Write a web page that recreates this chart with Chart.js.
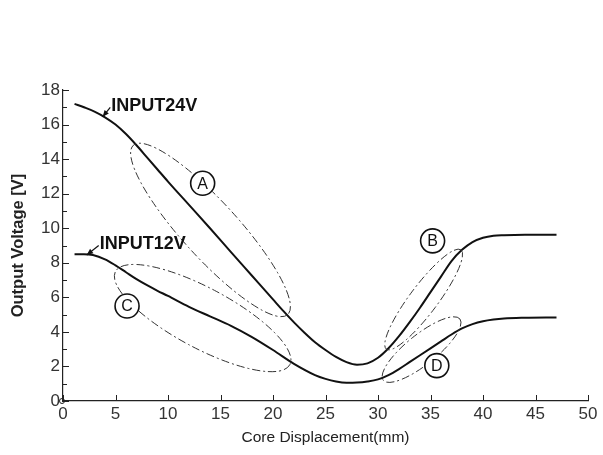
<!DOCTYPE html>
<html>
<head>
<meta charset="utf-8">
<script src="https://cdn.jsdelivr.net/npm/chart.js@4"></script>
<style>
  html, body { margin: 0; padding: 0; background: #fff; }
</style>
</head>
<body>
<canvas id="c" width="603" height="455"></canvas>
<script>
// ── Data ───────────────────────────────────────
const disp24 = [1.1, 2, 3, 4, 5, 6, 7, 8, 9, 10, 12, 14, 16, 18, 20, 21, 22, 23, 24, 25, 26, 27, 28, 29, 30, 31, 32, 33, 34, 35, 36, 37, 38, 39, 40, 41, 42, 44, 47];
const volt24 = [17.2, 17.0, 16.75, 16.42, 16.0, 15.45, 14.8, 14.1, 13.4, 12.7, 11.35, 10.0, 8.62, 7.25, 5.88, 5.2, 4.55, 3.95, 3.4, 2.95, 2.55, 2.25, 2.1, 2.18, 2.5, 3.05, 3.75, 4.55, 5.4, 6.3, 7.2, 8.1, 8.75, 9.2, 9.45, 9.57, 9.6, 9.62, 9.62];

const disp12 = [1.1, 2, 2.85, 4, 5, 6, 7, 8, 9, 10, 12, 14, 16, 18, 20, 22, 24, 25, 26, 27, 28, 29, 30, 31, 32, 33, 34, 35, 36, 37, 38, 39, 40, 41, 42, 44, 47];
const volt12 = [8.5, 8.5, 8.45, 8.2, 7.85, 7.45, 7.05, 6.7, 6.38, 6.08, 5.45, 4.9, 4.35, 3.7, 2.95, 2.15, 1.5, 1.28, 1.13, 1.06, 1.07, 1.13, 1.25, 1.5, 1.85, 2.25, 2.65, 3.05, 3.45, 3.85, 4.2, 4.45, 4.62, 4.72, 4.78, 4.82, 4.84];

const xTickStep = 5,  xMin = 0, xMax = 50;
const yTickStep = 1,  yMin = 0, yMax = 18;

// ── Annotations (data coords) ──────────────────
const ovals = [
  { from: [6.7, 14.8], to: [21.4, 5.0], half: 28 },   // A
  { from: [30.8, 3.0], to: [37.9, 8.75], half: 14 },  // B
  { from: [5.0, 7.5],  to: [21.6, 2.1], half: 30 },   // C
  { from: [30.5, 1.2], to: [37.8, 4.75], half: 15 },  // D
];
const badges = [
  { at: [13.3, 12.6], text: 'A' },
  { at: [35.2, 9.27], text: 'B' },
  { at: [6.1, 5.5],   text: 'C' },
  { at: [35.6, 2.05], text: 'D' },
];
const callouts = [
  { text: 'INPUT24V', at: [4.6, 17.05], tail: [4.5, 17.0], tip: [3.78, 16.45] },
  { text: 'INPUT12V', at: [3.5, 9.1],   tail: [3.4, 9.0],  tip: [2.26, 8.45] },
];

const FONT = "'Liberation Sans', Arial, sans-serif";

function toXY(xs, ys) { return xs.map((x, i) => ({ x, y: ys[i] })); }

// ── Inward MATLAB-style ticks ──────────────────
const inwardTicks = {
  id: 'inwardTicks',
  afterDraw(chart) {
    const { ctx, chartArea: a, scales: { x, y } } = chart;
    ctx.save();
    ctx.strokeStyle = '#222';
    ctx.lineWidth = 1;
    ctx.beginPath();
    x.ticks.forEach(t => {
      const p = Math.round(x.getPixelForValue(t.value)) + 0.5;
      ctx.moveTo(p, a.bottom); ctx.lineTo(p, a.bottom - 6);
    });
    y.ticks.forEach(t => {
      const p = Math.round(y.getPixelForValue(t.value)) + 0.5;
      ctx.moveTo(a.left, p); ctx.lineTo(a.left + (t.value % 2 ? 4 : 6), p);
    });
    ctx.stroke();
    // little ring at the origin
    ctx.beginPath();
    ctx.arc(a.left - 1, a.bottom, 2.5, 0, Math.PI * 2);
    ctx.stroke();
    ctx.restore();
  }
};

// ── Ovals, circled letters, callouts ───────────
const notes = {
  id: 'notes',
  afterDatasetsDraw(chart) {
    const { ctx, scales: { x, y } } = chart;
    const px = p => [x.getPixelForValue(p[0]), y.getPixelForValue(p[1])];
    ctx.save();

    ctx.strokeStyle = '#333';
    ctx.lineWidth = 1;
    ctx.setLineDash([8, 3, 2, 3]);
    ovals.forEach(o => {
      const [x1, y1] = px(o.from), [x2, y2] = px(o.to);
      const cx = (x1 + x2) / 2, cy = (y1 + y2) / 2;
      const len = Math.hypot(x2 - x1, y2 - y1) / 2;
      ctx.beginPath();
      ctx.ellipse(cx, cy, len, o.half, Math.atan2(y2 - y1, x2 - x1), 0, Math.PI * 2);
      ctx.stroke();
    });
    ctx.setLineDash([]);

    ctx.lineWidth = 1.6;
    ctx.strokeStyle = '#111';
    ctx.textAlign = 'center';
    ctx.textBaseline = 'middle';
    ctx.font = '16px ' + FONT;
    badges.forEach(b => {
      const [cx, cy] = px(b.at);
      ctx.beginPath();
      ctx.arc(cx, cy, 12, 0, Math.PI * 2);
      ctx.fillStyle = '#fff'; ctx.fill();
      ctx.stroke();
      ctx.fillStyle = '#111';
      ctx.fillText(b.text, cx, cy + 1);
    });

    ctx.textAlign = 'left';
    ctx.font = 'bold 18px ' + FONT;
    ctx.lineWidth = 1.2;
    callouts.forEach(c => {
      const [tx, ty] = px(c.at);
      ctx.fillText(c.text, tx, ty);
      const [ax, ay] = px(c.tail), [bx, by] = px(c.tip);
      ctx.beginPath(); ctx.moveTo(ax, ay); ctx.lineTo(bx, by); ctx.stroke();
      const ang = Math.atan2(by - ay, bx - ax);
      ctx.beginPath();
      ctx.moveTo(bx, by);
      ctx.lineTo(bx - 7 * Math.cos(ang - 0.4), by - 7 * Math.sin(ang - 0.4));
      ctx.lineTo(bx - 7 * Math.cos(ang + 0.4), by - 7 * Math.sin(ang + 0.4));
      ctx.closePath(); ctx.fill();
    });
    ctx.restore();
  }
};

const lineStyle = {
  showLine: true, pointRadius: 0, borderColor: '#111', borderWidth: 2,
  cubicInterpolationMode: 'monotone', fill: false
};

new Chart(document.getElementById('c'), {
  type: 'scatter',
  data: {
    datasets: [
      { label: 'INPUT24V', data: toXY(disp24, volt24), ...lineStyle },
      { label: 'INPUT12V', data: toXY(disp12, volt12), ...lineStyle },
    ]
  },
  options: {
    responsive: false,
    animation: false,
    devicePixelRatio: 1,
    layout: { padding: { left: 0, right: 15, top: 90, bottom: 0 } },
    plugins: { legend: { display: false }, tooltip: { enabled: false } },
    scales: {
      x: {
        type: 'linear', min: xMin, max: xMax,
        afterFit: s => { s.height = 54; },
        grid: { display: false, drawTicks: false },
        border: { color: '#222', width: 1.2 },
        ticks: { stepSize: xTickStep, padding: 3, color: '#333', font: { family: FONT, size: 17 } },
        title: { display: true, text: 'Core Displacement(mm)', color: '#222',
                 font: { family: FONT, size: 15.5 }, padding: { top: 2, bottom: 8 } }
      },
      y: {
        type: 'linear', min: yMin, max: yMax,
        afterFit: s => { s.width = 63; },
        grid: { display: false, drawTicks: false },
        border: { color: '#222', width: 1.2 },
        ticks: { stepSize: yTickStep, autoSkip: false, padding: 3, color: '#333',
                 font: { family: FONT, size: 17 },
                 callback: v => (v % 2 === 0 ? v : '') },
        title: { display: true, text: 'Output Voltage [V]', color: '#222',
                 font: { family: FONT, size: 16.5, weight: 'bold' }, padding: { top: 9, bottom: 0 } }
      }
    }
  },
  plugins: [inwardTicks, notes]
});
</script>
</body>
</html>
